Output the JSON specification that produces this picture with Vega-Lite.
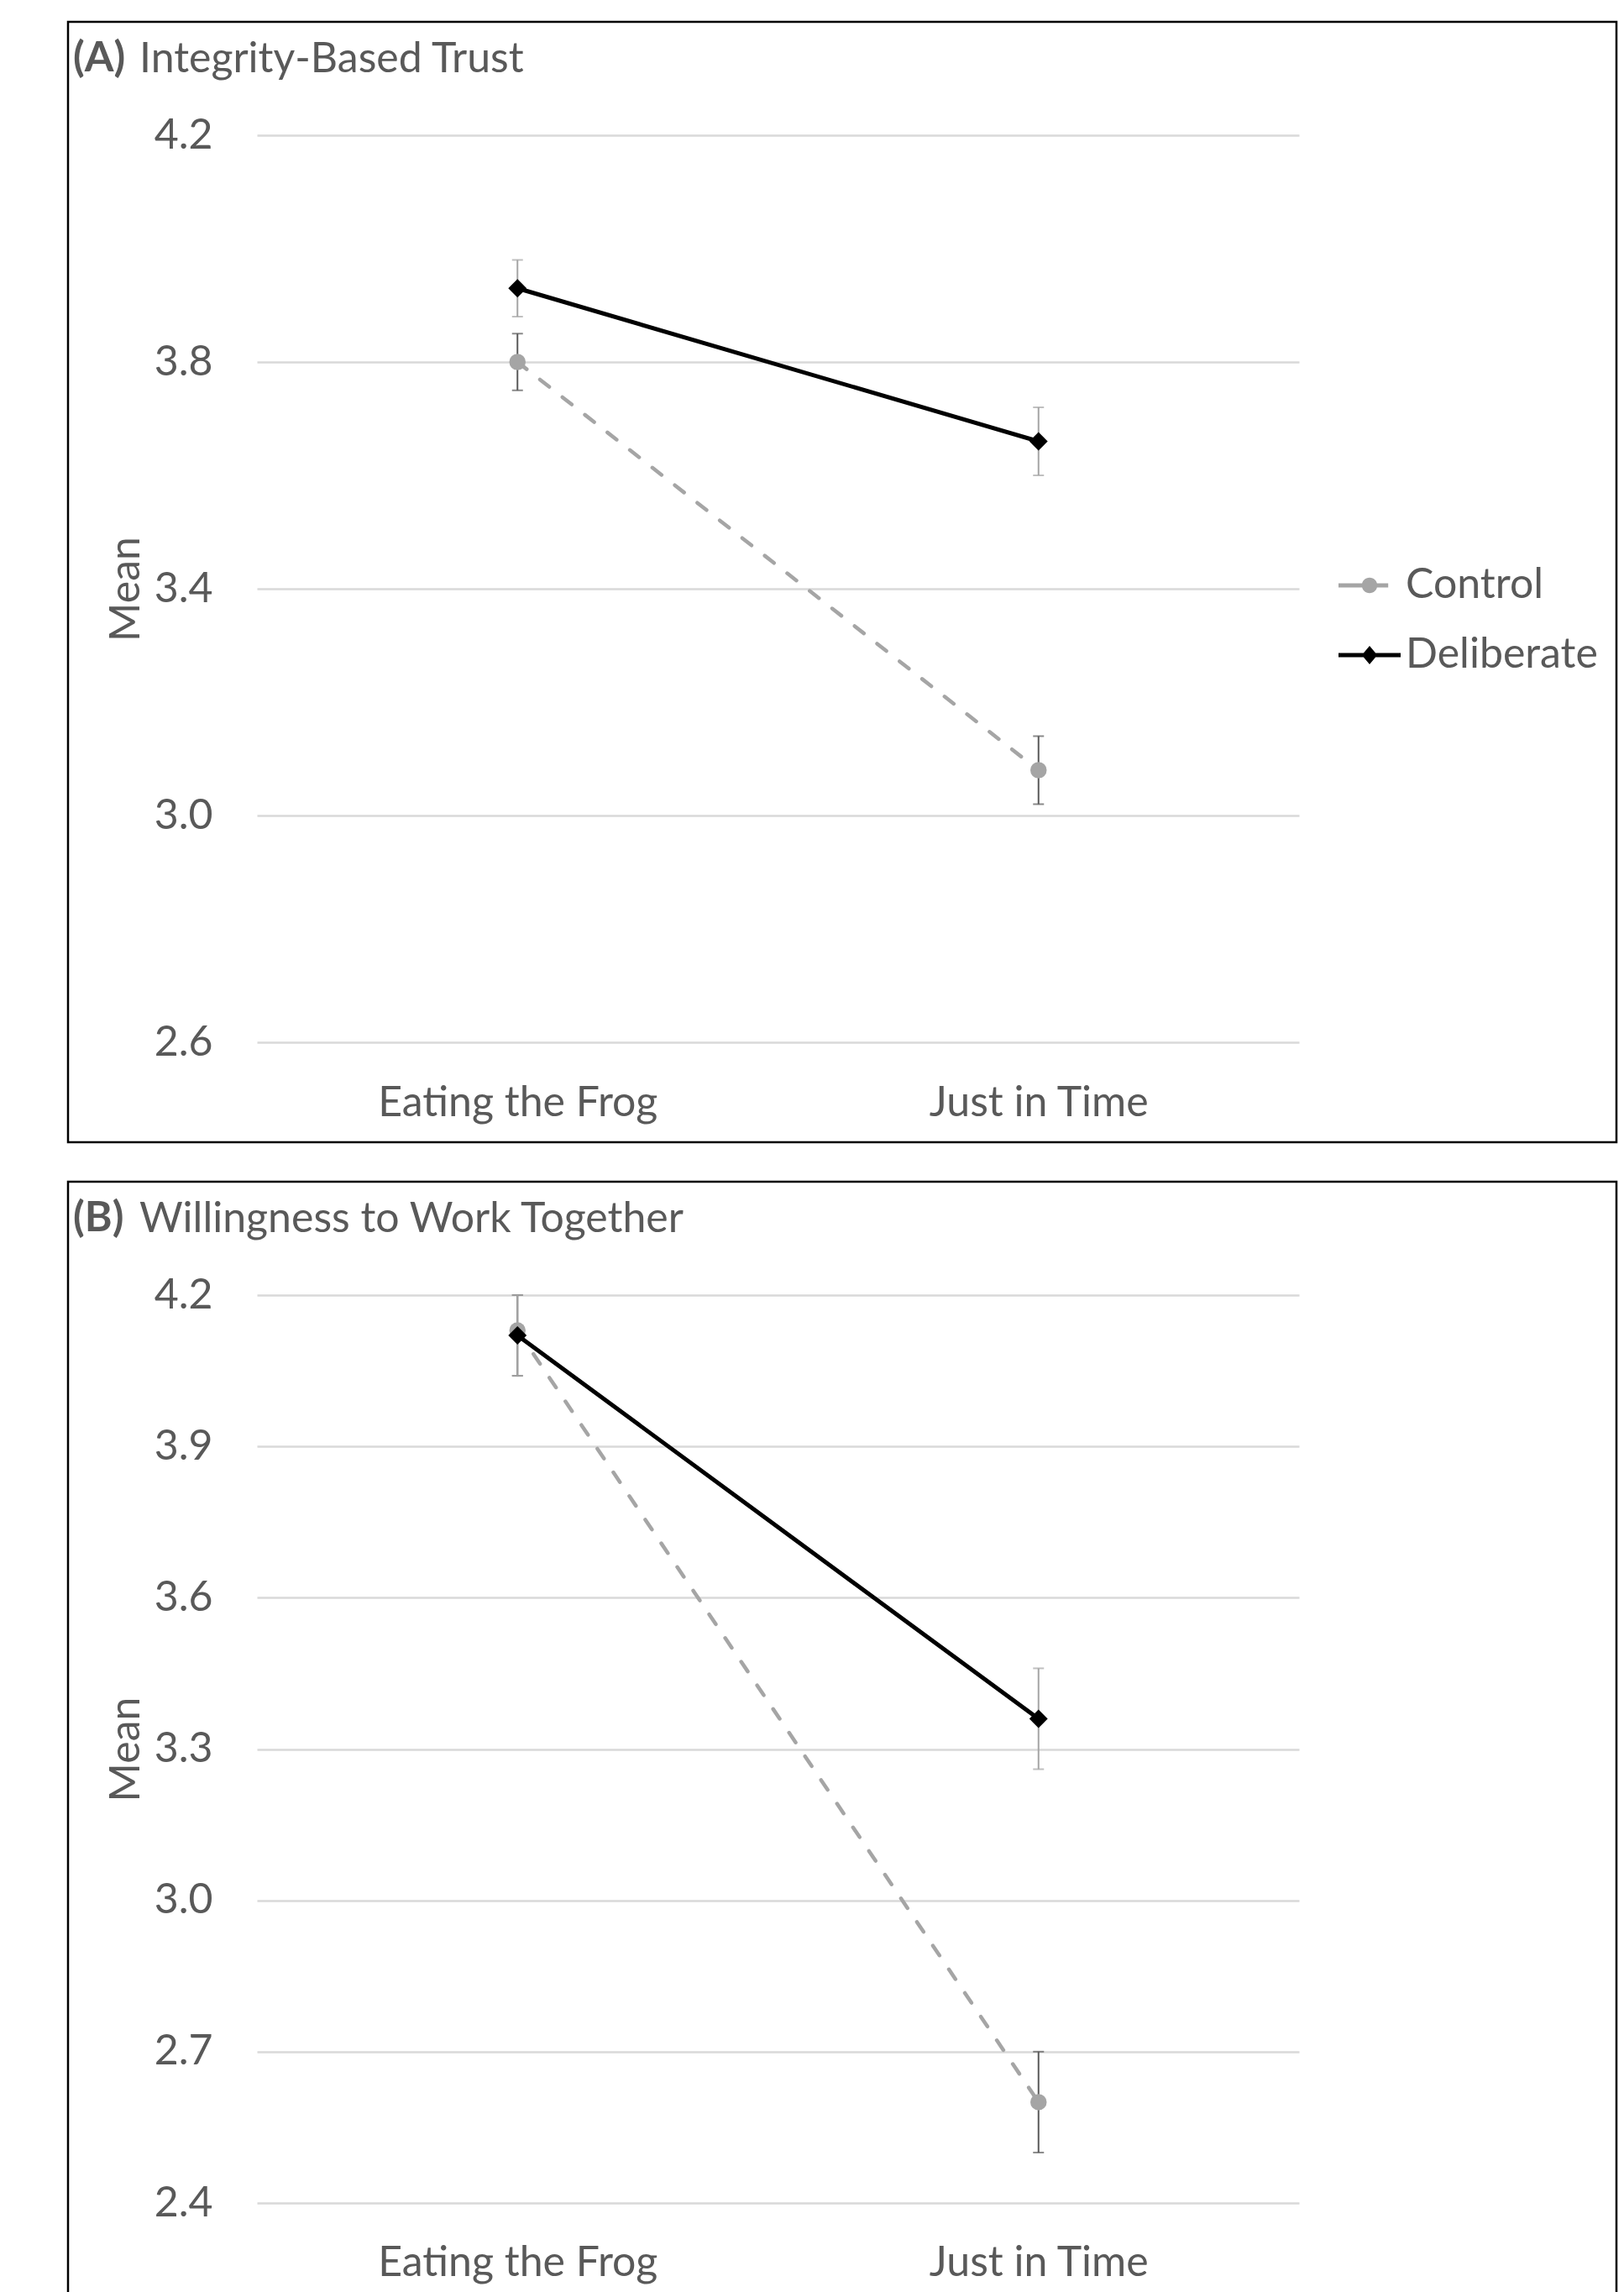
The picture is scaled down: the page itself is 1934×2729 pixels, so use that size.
{
  "$schema": "https://vega.github.io/schema/vega-lite/v6.json",
  "padding": {"left": 79, "top": 24, "right": 0, "bottom": 0},
  "background": "white",
  "spacing": 43,
  "datasets": {
    "trust": [
      {"cond": "Eating the Frog", "series": "Control", "mean": 3.80, "lo": 3.75, "hi": 3.85},
      {"cond": "Just in Time", "series": "Control", "mean": 3.08, "lo": 3.02, "hi": 3.14},
      {"cond": "Eating the Frog", "series": "Deliberate", "mean": 3.93, "lo": 3.88, "hi": 3.98},
      {"cond": "Just in Time", "series": "Deliberate", "mean": 3.66, "lo": 3.60, "hi": 3.72}
    ],
    "work": [
      {"cond": "Eating the Frog", "series": "Control", "mean": 4.13, "lo": 4.04, "hi": 4.20},
      {"cond": "Just in Time", "series": "Control", "mean": 2.60, "lo": 2.50, "hi": 2.70},
      {"cond": "Eating the Frog", "series": "Deliberate", "mean": 4.12, "lo": 4.04, "hi": 4.20},
      {"cond": "Just in Time", "series": "Deliberate", "mean": 3.36, "lo": 3.26, "hi": 3.46}
    ]
  },
  "vconcat": [
    {
      "title": {"text": "(A)", "fontWeight": "bold", "dx": 6, "offset": -110, "baseline": "alphabetic"},
      "vconcat": [
        {
          "title": {"text": "Integrity-Based Trust", "dx": 85, "offset": -110, "baseline": "alphabetic"},
          "width": 1844,
          "height": 1334,
          "data": {"name": "trust"},
          "layer": [
            {
              "mark": {"type": "errorbar", "ticks": true, "color": "#595959", "thickness": 2, "size": 13},
              "transform": [{"filter": "datum.series === 'Control'"}],
              "encoding": {
                "x": {"field": "cond", "type": "nominal", "sort": null, "title": null,
                      "scale": {"type": "point", "domain": ["Eating the Frog", "Just in Time"], "range": [225, 1466], "padding": 0.5},
                      "axis": {"labelAngle": 0, "labelPadding": 0, "offset": -72, "grid": false, "title": null, "labelLimit": 1000}},
                "y": {"field": "lo", "type": "quantitative", "title": "Mean",
                      "scale": {"domain": [2.6, 4.2], "range": [1215, 135], "nice": false, "zero": false},
                      "axis": {"values": [2.6, 3.0, 3.4, 3.8, 4.2], "format": ".1f", "offset": -172, "labelPadding": 0, "titlePadding": 8, "grid": true, "title": "Mean"}},
                "y2": {"field": "hi"}
              }
            },
            {
              "mark": {"type": "line", "color": "#a5a5a5", "strokeWidth": 4.5, "strokeDash": [14, 20], "strokeCap": "round"},
              "transform": [{"filter": "datum.series === 'Control'"}],
              "encoding": {
                "x": {"field": "cond", "type": "nominal", "sort": null},
                "y": {"field": "mean", "type": "quantitative"}
              }
            },
            {
              "mark": {"type": "point", "filled": true, "shape": "circle", "size": 380, "color": "#a5a5a5", "opacity": 1},
              "transform": [{"filter": "datum.series === 'Control'"}],
              "encoding": {
                "x": {"field": "cond", "type": "nominal", "sort": null},
                "y": {"field": "mean", "type": "quantitative"}
              }
            },
            {
              "mark": {"type": "errorbar", "ticks": true, "color": "#a5a5a5", "thickness": 2, "size": 13},
              "transform": [{"filter": "datum.series === 'Deliberate'"}],
              "encoding": {
                "x": {"field": "cond", "type": "nominal", "sort": null},
                "y": {"field": "lo", "type": "quantitative", "title": "Mean"},
                "y2": {"field": "hi"}
              }
            },
            {
              "mark": {"type": "line", "color": "#000000", "strokeWidth": 5, "strokeCap": "round"},
              "transform": [{"filter": "datum.series === 'Deliberate'"}],
              "encoding": {
                "x": {"field": "cond", "type": "nominal", "sort": null},
                "y": {"field": "mean", "type": "quantitative"}
              }
            },
            {
              "mark": {"type": "point", "filled": true, "shape": "diamond", "size": 480, "color": "#000000", "opacity": 1},
              "transform": [{"filter": "datum.series === 'Deliberate'"}],
              "encoding": {
                "x": {"field": "cond", "type": "nominal", "sort": null},
                "y": {"field": "mean", "type": "quantitative"}
              }
            },
            {
              "mark": {"type": "point", "filled": true, "opacity": 1},
              "transform": [{"filter": "datum.series === 'none'"}],
              "encoding": {
                "x": {"field": "cond", "type": "nominal", "sort": null},
                "y": {"field": "mean", "type": "quantitative"},
                "color": {"field": "series", "type": "nominal",
                          "scale": {"domain": ["Control", "Deliberate"], "range": ["#a5a5a5", "#000000"]},
                          "legend": {"title": null, "orient": "none", "legendX": 1513, "legendY": 634, "symbolSize": 5476, "symbolStrokeWidth": 0, "labelFont": "Lato", "labelFontSize": 50, "labelColor": "#595959", "labelOffset": 6, "rowPadding": 21, "padding": 0, "labelLimit": 500}},
                "shape": {"field": "series", "type": "nominal",
                          "scale": {"domain": ["Control", "Deliberate"], "range": ["M-1,-0.07H-0.2V0.07H-1Z M0.2,-0.07H0.6V0.07H0.2Z M-0.25,0A0.25,0.25 0 1,1 0.25,0A0.25,0.25 0 1,1 -0.25,0Z", "M-1,-0.07H1V0.07H-1Z M0,-0.3L0.25,0L0,0.3L-0.25,0Z"]},
                          "legend": {"title": null, "orient": "none", "legendX": 1513, "legendY": 634, "symbolSize": 5476, "symbolStrokeWidth": 0, "labelFont": "Lato", "labelFontSize": 50, "labelColor": "#595959", "labelOffset": 6, "rowPadding": 21, "padding": 0, "labelLimit": 500}}
              }
            }
          ]
        }
      ]
    },
    {
      "title": {"text": "(B)", "fontWeight": "bold", "dx": 6, "offset": -110, "baseline": "alphabetic"},
      "vconcat": [
        {
          "title": {"text": "Willingness to Work Together", "dx": 85, "offset": -110, "baseline": "alphabetic"},
          "width": 1844,
          "height": 1334,
          "data": {"name": "work"},
          "layer": [
            {
              "mark": {"type": "errorbar", "ticks": true, "color": "#595959", "thickness": 2, "size": 13},
              "transform": [{"filter": "datum.series === 'Control'"}],
              "encoding": {
                "x": {"field": "cond", "type": "nominal", "sort": null, "title": null,
                      "scale": {"type": "point", "domain": ["Eating the Frog", "Just in Time"], "range": [225, 1466], "padding": 0.5},
                      "axis": {"labelAngle": 0, "labelPadding": 0, "offset": -72, "grid": false, "title": null, "labelLimit": 1000}},
                "y": {"field": "lo", "type": "quantitative", "title": "Mean",
                      "scale": {"domain": [2.4, 4.2], "range": [1216, 135], "nice": false, "zero": false},
                      "axis": {"values": [2.4, 2.7, 3.0, 3.3, 3.6, 3.9, 4.2], "format": ".1f", "offset": -172, "labelPadding": 0, "titlePadding": 8, "grid": true, "title": "Mean"}},
                "y2": {"field": "hi"}
              }
            },
            {
              "mark": {"type": "line", "color": "#a5a5a5", "strokeWidth": 4.5, "strokeDash": [14, 20], "strokeCap": "round"},
              "transform": [{"filter": "datum.series === 'Control'"}],
              "encoding": {
                "x": {"field": "cond", "type": "nominal", "sort": null},
                "y": {"field": "mean", "type": "quantitative"}
              }
            },
            {
              "mark": {"type": "point", "filled": true, "shape": "circle", "size": 380, "color": "#a5a5a5", "opacity": 1},
              "transform": [{"filter": "datum.series === 'Control'"}],
              "encoding": {
                "x": {"field": "cond", "type": "nominal", "sort": null},
                "y": {"field": "mean", "type": "quantitative"}
              }
            },
            {
              "mark": {"type": "errorbar", "ticks": true, "color": "#a5a5a5", "thickness": 2, "size": 13},
              "transform": [{"filter": "datum.series === 'Deliberate'"}],
              "encoding": {
                "x": {"field": "cond", "type": "nominal", "sort": null},
                "y": {"field": "lo", "type": "quantitative", "title": "Mean"},
                "y2": {"field": "hi"}
              }
            },
            {
              "mark": {"type": "line", "color": "#000000", "strokeWidth": 5, "strokeCap": "round"},
              "transform": [{"filter": "datum.series === 'Deliberate'"}],
              "encoding": {
                "x": {"field": "cond", "type": "nominal", "sort": null},
                "y": {"field": "mean", "type": "quantitative"}
              }
            },
            {
              "mark": {"type": "point", "filled": true, "shape": "diamond", "size": 480, "color": "#000000", "opacity": 1},
              "transform": [{"filter": "datum.series === 'Deliberate'"}],
              "encoding": {
                "x": {"field": "cond", "type": "nominal", "sort": null},
                "y": {"field": "mean", "type": "quantitative"}
              }
            },
            {
              "mark": {"type": "point", "filled": true, "opacity": 1},
              "transform": [{"filter": "datum.series === 'none'"}],
              "encoding": {
                "x": {"field": "cond", "type": "nominal", "sort": null},
                "y": {"field": "mean", "type": "quantitative"},
                "color": {"field": "series", "type": "nominal",
                          "scale": {"domain": ["Control", "Deliberate"], "range": ["#a5a5a5", "#000000"]},
                          "legend": {"title": null, "orient": "none", "legendX": 1513, "legendY": 634, "symbolSize": 5476, "symbolStrokeWidth": 0, "labelFont": "Lato", "labelFontSize": 50, "labelColor": "#595959", "labelOffset": 6, "rowPadding": 21, "padding": 0, "labelLimit": 500}},
                "shape": {"field": "series", "type": "nominal",
                          "scale": {"domain": ["Control", "Deliberate"], "range": ["M-1,-0.07H-0.2V0.07H-1Z M0.2,-0.07H0.6V0.07H0.2Z M-0.25,0A0.25,0.25 0 1,1 0.25,0A0.25,0.25 0 1,1 -0.25,0Z", "M-1,-0.07H1V0.07H-1Z M0,-0.3L0.25,0L0,0.3L-0.25,0Z"]},
                          "legend": {"title": null, "orient": "none", "legendX": 1513, "legendY": 634, "symbolSize": 5476, "symbolStrokeWidth": 0, "labelFont": "Lato", "labelFontSize": 50, "labelColor": "#595959", "labelOffset": 6, "rowPadding": 21, "padding": 0, "labelLimit": 500}}
              }
            }
          ]
        }
      ]
    }
  ],
  "config": {
    "font": "Lato",
    "view": {"stroke": "#000000", "strokeWidth": 2.5},
    "axis": {"labelFont": "Lato", "labelFontSize": 50, "labelColor": "#595959", "titleFont": "Lato", "titleFontSize": 50, "titleColor": "#595959", "titleFontWeight": "normal", "domain": false, "ticks": false, "tickSize": 0, "gridColor": "#d9d9d9", "gridWidth": 2.5, "labelLimit": 1000},
    "title": {"font": "Lato", "fontSize": 50, "color": "#595959", "fontWeight": "normal", "anchor": "start", "frame": "group"}
  }
}
